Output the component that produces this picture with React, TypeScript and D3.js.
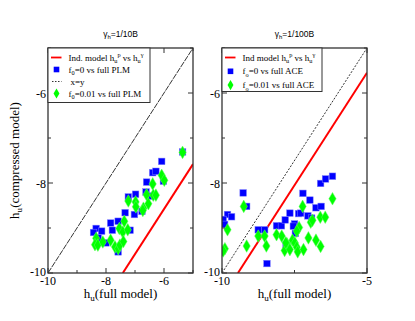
import React from 'react';
import * as d3 from 'd3';

// left panel: gamma_h = 1/10B, PLM
const leftBlue: [number, number][] = [
  [-5.36, -7.31], [-6.08, -7.52], [-6.39, -7.77], [-6.28, -7.74], [-6.02, -7.96],
  [-6.60, -7.98], [-6.62, -8.20], [-6.48, -8.29], [-6.98, -8.25], [-7.23, -8.31],
  [-6.76, -8.63], [-7.34, -8.66], [-7.02, -8.70], [-7.58, -8.85], [-7.84, -8.89],
  [-8.34, -9.01], [-8.15, -9.07], [-8.43, -9.10], [-7.78, -9.05], [-7.17, -9.05],
  [-8.27, -9.22], [-8.00, -9.33], [-7.58, -9.53],
];
const leftGreen: [number, number][] = [
  [-5.36, -7.32], [-6.08, -7.83], [-5.99, -7.94], [-6.39, -8.02], [-6.60, -8.26],
  [-6.37, -8.27], [-6.28, -8.27], [-7.23, -8.40], [-6.98, -8.42], [-6.97, -8.53],
  [-6.54, -8.46], [-6.71, -8.56], [-6.73, -8.61], [-7.37, -8.85], [-7.54, -9.01],
  [-7.42, -9.09], [-7.25, -9.04], [-8.34, -9.23], [-8.38, -9.37], [-8.28, -9.38],
  [-8.11, -9.31], [-7.84, -9.27], [-7.69, -9.42], [-7.58, -9.46], [-7.52, -9.38],
  [-7.40, -9.30],
];
const leftIndModel: [number, number][] = [[-7.42, -10], [-5, -7.58]];

// right panel: gamma_h = 1/100B, ACE
const rightBlue: [number, number][] = [
  [-9.27, -8.22], [-9.15, -8.52], [-9.81, -8.70], [-9.67, -8.75], [-9.96, -8.81],
  [-9.91, -8.92], [-8.75, -9.04], [-8.53, -9.04], [-8.12, -8.95], [-7.95, -8.95],
  [-7.82, -8.82], [-7.66, -8.67], [-7.36, -8.68], [-7.29, -8.67], [-7.04, -8.73],
  [-6.91, -8.78], [-7.50, -8.91], [-7.54, -8.96], [-7.47, -9.12], [-7.21, -8.23],
  [-6.97, -8.38], [-6.76, -8.55], [-6.58, -8.52], [-6.60, -8.01], [-6.43, -7.91],
  [-6.19, -7.85], [-7.79, -9.37], [-8.45, -9.79],
];
const rightGreen: [number, number][] = [
  [-9.25, -8.52], [-9.81, -9.04], [-9.90, -9.46], [-9.96, -9.51], [-9.15, -9.40],
  [-8.75, -9.18], [-8.53, -9.18], [-8.47, -9.40], [-8.12, -9.15], [-7.94, -9.18],
  [-7.76, -9.35], [-7.84, -9.50], [-7.57, -9.27], [-7.49, -9.33], [-7.66, -9.48],
  [-7.42, -9.43], [-7.39, -9.53], [-7.19, -9.48], [-7.02, -9.22], [-6.76, -9.27],
  [-6.60, -9.41], [-7.22, -8.52], [-6.94, -8.87], [-6.88, -8.83], [-6.61, -8.76],
  [-6.44, -8.76], [-6.19, -8.35], [-7.34, -8.99], [-7.42, -9.07], [-7.80, -9.33],
];
const rightIndModel: [number, number][] = [[-9.45, -10], [-5, -5.55]];

const diagonal: [number, number][] = [[-10, -10], [-5, -5]];
const domain: [number, number] = [-10, -5];
const yMajor = [-10, -8, -6];
const yMinor = [-9, -7, -5];
const leftXMajor = [-10, -8, -6];
const leftXMinor = [-9, -7, -5];
const rightXMajor = [-10, -5];
const rightXMinor = [-7.5];

const serif = 'Liberation Serif, Times New Roman, serif';
const sans = 'Liberation Sans, Arial, sans-serif';

type LegendItem = { kind: 'line' | 'dash' | 'square' | 'diamond'; label: React.ReactNode };

const hLabel = (pre: string) => (
  <>
    {pre}h<tspan dy={2.5} fontSize="0.7em">u</tspan>
    <tspan dy={-6} fontSize="0.7em">p</tspan>
    <tspan dy={3.5}> vs h</tspan>
    <tspan dy={2.5} fontSize="0.7em">u</tspan>
    <tspan dy={-6} fontSize="0.7em">γ</tspan>
  </>
);

const fLabel = (sub: string, rest: string) => (
  <>
    f<tspan dy={2.5} fontSize="0.7em">{sub}</tspan>
    <tspan dy={-2.5}>{rest}</tspan>
  </>
);

function Panel(props: {
  x0: number; x1: number; y0: number; y1: number;
  title: string; blue: [number, number][]; green: [number, number][];
  ind: [number, number][]; xMajor: number[]; xMinor: number[];
  diagDash: string; legend: LegendItem[]; legendW: number; yLabel?: boolean;
}) {
  const { x0, x1, y0, y1 } = props;
  const x = d3.scaleLinear().domain(domain).range([x0, x1]);
  const y = d3.scaleLinear().domain(domain).range([y1, y0]);
  const line = d3.line<[number, number]>().x(d => x(d[0])).y(d => y(d[1]));
  const clipId = `clip${x0}`;
  const frame = '#333';
  const diamond = d3.symbol(d3.symbolDiamond, 46)();
  const legRows = props.legend.length;
  const legH = legRows === 4 ? 54.5 : 43.5;
  const rowY = (i: number) => y0 + 9.5 + i * (legRows === 4 ? 12 : 13.8);

  return (
    <g>
      <defs>
        <clipPath id={clipId}>
          <rect x={x0} y={y0} width={x1 - x0} height={y1 - y0} />
        </clipPath>
      </defs>
      <text x={(x0 + x1) / 2} y={37} textAnchor="middle" fontFamily={sans} fontSize={8.5}>
        γ<tspan dy={2} fontSize="0.7em">h</tspan><tspan dy={-2}>{props.title}</tspan>
      </text>
      <g clipPath={`url(#${clipId})`}>
        <path d={line(props.ind) ?? ''} stroke="#ff0000" strokeWidth={2} fill="none" />
        <path d={line(diagonal) ?? ''} stroke="#000" strokeWidth={0.8} strokeDasharray={props.diagDash} fill="none" />
        {props.blue.map((d, i) => (
          <rect key={`b${i}`} x={x(d[0]) - 3.3} y={y(d[1]) - 3.3} width={6.6} height={6.6}
            fill="#0000ff" stroke="#8080ff" strokeWidth={0.5} />
        ))}
        {props.green.map((d, i) => (
          <path key={`g${i}`} d={diamond ?? ''} transform={`translate(${x(d[0])},${y(d[1])})`}
            fill="#00ff00" stroke="#60ff60" strokeWidth={0.5} />
        ))}
      </g>
      {/* ticks on all four sides, pointing in */}
      {yMajor.concat(yMinor).map((t, i) => {
        const len = yMajor.includes(t) ? 5 : 3;
        return (
          <g key={`yt${i}`} stroke={frame} strokeWidth={1}>
            <line x1={x0} x2={x0 + len} y1={y(t)} y2={y(t)} />
            <line x1={x1} x2={x1 - len} y1={y(t)} y2={y(t)} />
          </g>
        );
      })}
      {props.xMajor.concat(props.xMinor).map((t, i) => {
        const len = props.xMajor.includes(t) ? 5 : 3;
        return (
          <g key={`xt${i}`} stroke={frame} strokeWidth={1}>
            <line x1={x(t)} x2={x(t)} y1={y1} y2={y1 - len} />
            <line x1={x(t)} x2={x(t)} y1={y0} y2={y0 + len} />
          </g>
        );
      })}
      <rect x={x0} y={y0} width={x1 - x0} height={y1 - y0} fill="none" stroke={frame} strokeWidth={1.3} />
      {yMajor.map(t => (
        <text key={`yl${t}`} x={x0 - 2} y={y(t) + (t === -10 ? 3 : 4.5)} textAnchor="end" fontFamily={serif} fontSize={12}>
          {t}
        </text>
      ))}
      {props.xMajor.map(t => (
        <text key={`xl${t}`} x={x(t)} y={285} textAnchor="middle" fontFamily={serif} fontSize={12}>
          {t}
        </text>
      ))}
      <text x={(x0 + x1) / 2} y={298} textAnchor="middle" fontFamily={serif} fontSize={13}>
        h<tspan dy={3} fontSize="0.7em">u</tspan><tspan dy={-3}>(full model)</tspan>
      </text>
      {props.yLabel && (
        <text transform={`translate(19,${(y0 + y1) / 2}) rotate(-90)`} textAnchor="middle"
          fontFamily={serif} fontSize={13}>
          h<tspan dy={3} fontSize="0.7em">u</tspan><tspan dy={-3}>(compressed model)</tspan>
        </text>
      )}
      {/* legend */}
      <rect x={x0} y={y0} width={props.legendW} height={legH} fill="#fff" stroke={frame} strokeWidth={1} />
      {props.legend.map((it, i) => {
        const cy = rowY(i);
        const sx = x0 + 8.5;
        return (
          <g key={`lg${i}`}>
            {it.kind === 'line' && <line x1={x0 + 3} x2={x0 + 13.5} y1={cy} y2={cy} stroke="#ff0000" strokeWidth={1.8} />}
            {it.kind === 'dash' && <line x1={x0 + 4} x2={x0 + 13.5} y1={cy} y2={cy} stroke="#000" strokeWidth={0.8} strokeDasharray="1.5,1.5" />}
            {it.kind === 'square' && <rect x={sx - 2.8} y={cy - 2.8} width={5.6} height={5.6} fill="#0000ff" />}
            {it.kind === 'diamond' && (
              <path d={d3.symbol(d3.symbolDiamond, 30)() ?? ''} transform={`translate(${sx},${cy})`} fill="#00ff00" />
            )}
            <text x={x0 + 20.5} y={cy + 3} fontFamily={serif} fontSize={9}>
              {it.label}
            </text>
          </g>
        );
      })}
    </g>
  );
}

export default function App() {
  return (
    <svg width={415} height={321} style={{ position: 'absolute', left: 0, top: 0, background: '#fff' }}>
      <Panel x0={48} x1={193} y0={48} y1={273} title="=1/10B" blue={leftBlue} green={leftGreen}
        ind={leftIndModel} xMajor={leftXMajor} xMinor={leftXMinor} diagDash="6,1" legendW={102} yLabel
        legend={[
          { kind: 'line', label: hLabel('Ind. model ') },
          { kind: 'square', label: fLabel('0', '=0 vs full PLM') },
          { kind: 'dash', label: <tspan dx={2}>x=y</tspan> },
          { kind: 'diamond', label: fLabel('0', '=0.01 vs full PLM') },
        ]} />
      <Panel x0={222} x1={367} y0={48} y1={273} title="=1/100B" blue={rightBlue} green={rightGreen}
        ind={rightIndModel} xMajor={rightXMajor} xMinor={rightXMinor} diagDash="2,1.5" legendW={100}
        legend={[
          { kind: 'line', label: hLabel('Ind model ') },
          { kind: 'square', label: fLabel('o', '=0 vs full ACE') },
          { kind: 'diamond', label: fLabel('o', '=0.01 vs full ACE') },
        ]} />
    </svg>
  );
}
